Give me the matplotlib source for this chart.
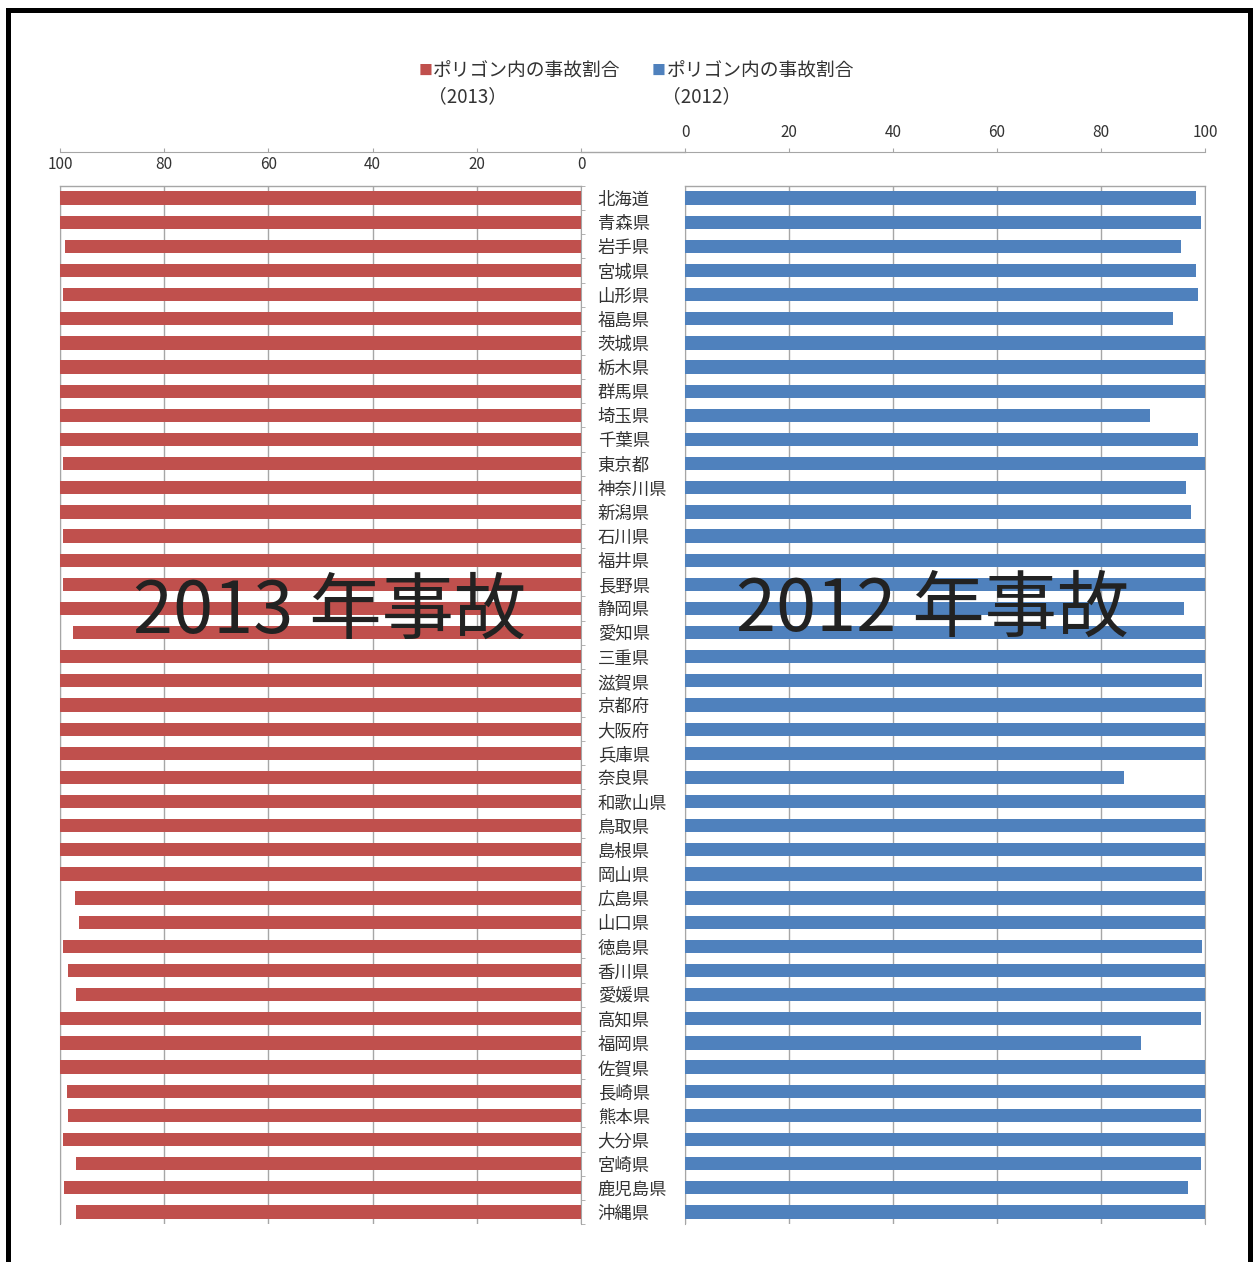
import numpy as np
import matplotlib
matplotlib.use("Agg")
import matplotlib.pyplot as plt
from matplotlib.lines import Line2D
from matplotlib.ticker import FixedLocator

plt.rcParams['font.family'] = ['Noto Sans CJK JP', 'DejaVu Sans']

# 都道府県ごとのポリゴン内事故割合 (%)
prefs = ["北海道", "青森県", "岩手県", "宮城県", "山形県", "福島県", "茨城県", "栃木県",
         "群馬県", "埼玉県", "千葉県", "東京都", "神奈川県", "新潟県", "石川県", "福井県",
         "長野県", "静岡県", "愛知県", "三重県", "滋賀県", "京都府", "大阪府", "兵庫県",
         "奈良県", "和歌山県", "鳥取県", "島根県", "岡山県", "広島県", "山口県", "徳島県",
         "香川県", "愛媛県", "高知県", "福岡県", "佐賀県", "長崎県", "熊本県", "大分県",
         "宮崎県", "鹿児島県", "沖縄県"]

ratio_2013 = [100, 100, 99.0, 100, 99.5, 100, 100, 100,
              100, 100, 100, 99.5, 100, 100, 99.5, 100,
              99.5, 100, 97.5, 100, 100, 100, 100, 100,
              100, 100, 100, 100, 100, 97.2, 96.3, 99.5,
              98.4, 96.9, 100, 100, 100, 98.7, 98.4, 99.5,
              96.9, 99.3, 96.9]

ratio_2012 = [98.3, 99.2, 95.4, 98.3, 98.6, 93.9, 100, 100,
              100, 89.5, 98.6, 100, 96.3, 97.4, 100, 100,
              100, 95.9, 100, 100, 99.5, 100, 100, 100,
              84.5, 100, 100, 100, 99.5, 100, 100, 99.5,
              100, 100, 99.2, 87.7, 100, 100, 99.2, 100,
              99.2, 96.8, 100]

x_ticks = [0, 20, 40, 60, 80, 100]

RED = "#C0504D"
BLUE = "#4F81BD"
GRID = "#A6A6A6"
TXT = "#333333"

W, H = 1254, 1262
fig = plt.figure(figsize=(W / 100, H / 100), dpi=100)

def fx(px):
    return px / W

def fy(px):
    return 1 - px / H

top, bottom = 186, 1224
ax_l = fig.add_axes([fx(60), fy(bottom), fx(581 - 60), (bottom - top) / H])
ax_r = fig.add_axes([fx(685), fy(bottom), fx(1205 - 685), (bottom - top) / H])

y = np.arange(len(prefs))

ax_l.barh(y, ratio_2013, height=0.55, color=RED, zorder=2)
ax_r.barh(y, ratio_2012, height=0.55, color=BLUE, zorder=2)

for ax in (ax_l, ax_r):
    ax.set_ylim(len(prefs) - 0.5, -0.5)
    ax.set_xticks(x_ticks)
    ax.xaxis.grid(True, color=GRID, linewidth=1)
    ax.set_axisbelow(True)
    ax.spines["bottom"].set_visible(False)
    for s in ("left", "right"):
        ax.spines[s].set_color(GRID)
        ax.spines[s].set_zorder(1)
    ax.spines["top"].set_position(("outward", 24.5))
    ax.spines["top"].set_color(GRID)
    ax.axhline(-0.5, color=GRID, linewidth=1, clip_on=False)
    ax.xaxis.tick_top()

# 左側 (2013年) は反転した横軸, 目盛りラベルは軸線の下
ax_l.set_xlim(100, 0)
ax_l.tick_params(axis="x", top=True, bottom=False, labeltop=True, labelbottom=False,
                 direction="out", length=3, color=GRID, labelsize=11, labelcolor=TXT,
                 pad=-18)
ax_l.set_yticks(y)
ax_l.set_yticklabels(prefs)
ax_l.yaxis.tick_right()
ax_l.tick_params(axis="y", which="major", length=0, pad=12, labelsize=12.5, labelcolor=TXT)
ax_l.yaxis.set_minor_locator(FixedLocator(np.arange(-0.5, len(prefs), 1)))
ax_l.tick_params(axis="y", which="minor", right=True, left=False, length=3,
                 color=GRID, direction="out")

# 右側 (2012年)
ax_r.set_xlim(0, 100)
ax_r.tick_params(axis="x", top=True, bottom=False, labeltop=True, labelbottom=False,
                 direction="out", length=3, color=GRID, labelsize=11, labelcolor=TXT,
                 pad=5)
ax_r.set_yticks([])

# 2つの軸線をつなぐ
fig.add_artist(Line2D([fx(581), fx(685)], [fy(152), fy(152)], color=GRID, linewidth=1))

# 凡例
fig.text(fx(419), fy(71), "■", color=RED, fontsize=10, va="center")
fig.text(fx(433), fy(71), "ポリゴン内の事故割合", color=TXT, fontsize=13.5, va="center")
fig.text(fx(428), fy(97), "（2013）", color=TXT, fontsize=13.5, va="center")
fig.text(fx(652), fy(71), "■", color=BLUE, fontsize=10, va="center")
fig.text(fx(667), fy(71), "ポリゴン内の事故割合", color=TXT, fontsize=13.5, va="center")
fig.text(fx(662), fy(97), "（2012）", color=TXT, fontsize=13.5, va="center")

# 大見出し
fig.text(fx(330), fy(612), "2013 年事故", color="#222222", fontsize=52,
         ha="center", va="center", zorder=5)
fig.text(fx(933), fy(610), "2012 年事故", color="#222222", fontsize=52,
         ha="center", va="center", zorder=5)

# 外枠 (下辺なし)
fig.add_artist(Line2D([fx(7.5), fx(7.5), fx(1249.5), fx(1249.5)],
                      [fy(1262), fy(9.5), fy(9.5), fy(1262)],
                      color="black", linewidth=3.6, solid_joinstyle="miter"))

fig.savefig("out.png", dpi=100)
